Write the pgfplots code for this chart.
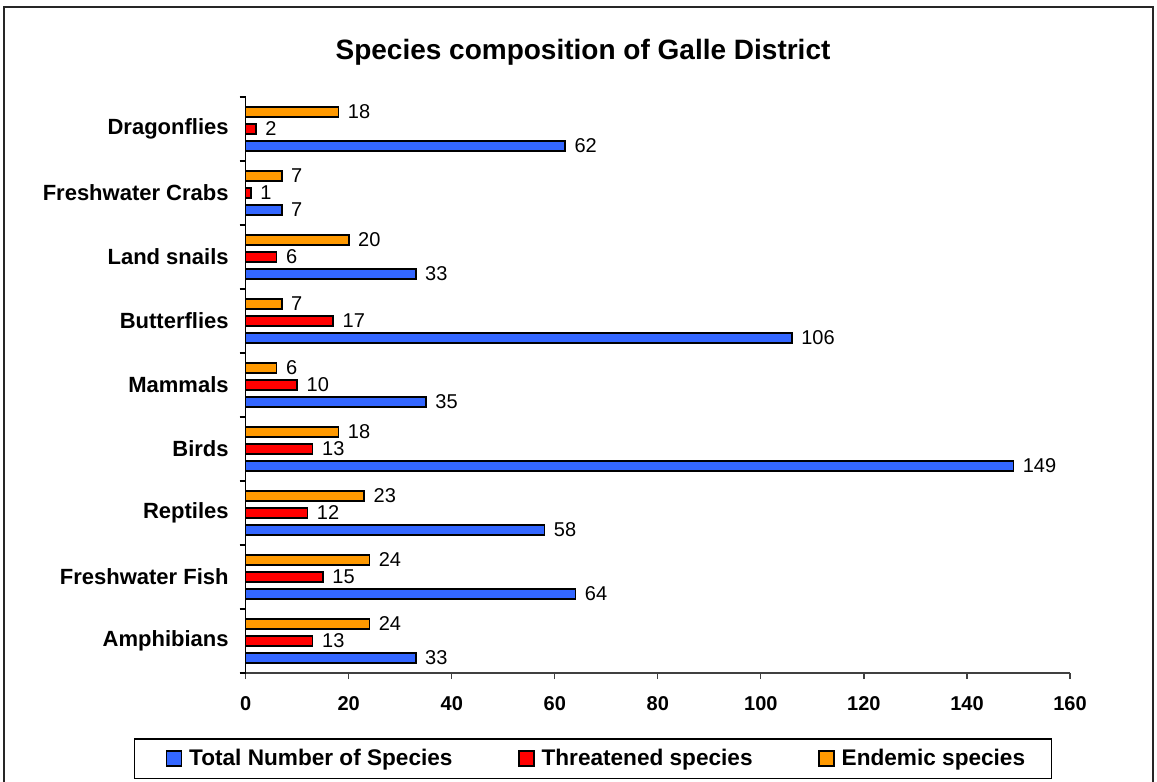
\documentclass[border=0pt]{standalone}
\usepackage{pgfplots}
\pgfplotsset{compat=1.18}
\usepackage{fontspec}
\setmainfont{Liberation Sans}
\definecolor{cblue}{HTML}{3366FF}
\definecolor{cred}{HTML}{FF0000}
\definecolor{corange}{HTML}{FF9900}
\begin{document}
\begin{tikzpicture}
\useasboundingbox (0,0) rectangle (578.5pt,391pt);
\draw[line width=1pt, black!85] (2pt,0pt) -- (2pt,387.5pt) -- (576.5pt,387.5pt) -- (576.5pt,0pt);
\node[font=\bfseries\fontsize{14}{16}\selectfont] at (291.5pt,365pt) {Species composition of Galle District};
\begin{axis}[
  at={(122.85pt,54.5pt)}, anchor=south west,
  scale only axis, width=412.15pt, height=288pt,
  xbar, bar width=5pt,
  xmin=0, xmax=160, ymin=-0.5, ymax=8.5,
  axis lines=left, axis line style={-, line width=0.6pt},
  x axis line style={black!75},
  xtick={0,20,...,160},
  ytick={0,...,8},
  yticklabels={Amphibians,Freshwater Fish,Reptiles,Birds,Mammals,Butterflies,Land snails,Freshwater Crabs,Dragonflies},
  minor ytick={-0.5,0.5,...,8.5},
  major y tick style={draw=none},
  minor y tick style={black, line width=0.6pt},
  major x tick style={black!75, line width=0.6pt},
  tick align=outside, xtick pos=bottom, ytick pos=left,
  major tick length=3pt, minor tick length=3pt,
  /pgf/number format/assume math mode=true,
  yticklabel style={font=\bfseries\fontsize{11}{13}\selectfont, xshift=-2pt},
  xticklabel style={font=\bfseries\fontsize{10}{12}\selectfont, yshift=-5pt},
  nodes near coords,
  nodes near coords style={font=\fontsize{10}{12}\selectfont, anchor=west, xshift=1pt},
  clip=false,
  legend columns=3,
  legend style={at={(-0.1355,-0.1840)}, anchor=south west, draw=black, line width=0.6pt,
    inner xsep=11pt, inner ysep=3pt,
    font=\bfseries\fontsize{11.3}{13}\selectfont,
    nodes={inner sep=2pt},
    /tikz/every even column/.append style={column sep=26.25pt}},
  legend image code/.code={\path (-4.5pt,0pt) (9pt,0pt);
    \draw[#1, line width=0.8pt] (0pt,-3.75pt) rectangle (7.5pt,3.75pt);},
]
\addplot[fill=cblue, draw=black, line width=0.8pt, bar shift=-8.5pt] coordinates {
 (33,0) (64,1) (58,2) (149,3) (35,4) (106,5) (33,6) (7,7) (62,8)};
\addplot[fill=cred, draw=black, line width=0.8pt, bar shift=0pt] coordinates {
 (13,0) (15,1) (12,2) (13,3) (10,4) (17,5) (6,6) (1,7) (2,8)};
\addplot[fill=corange, draw=black, line width=0.8pt, bar shift=8.5pt] coordinates {
 (24,0) (24,1) (23,2) (18,3) (6,4) (7,5) (20,6) (7,7) (18,8)};
\legend{Total Number of Species, Threatened species, Endemic species}
\end{axis}
\end{tikzpicture}
\end{document}
